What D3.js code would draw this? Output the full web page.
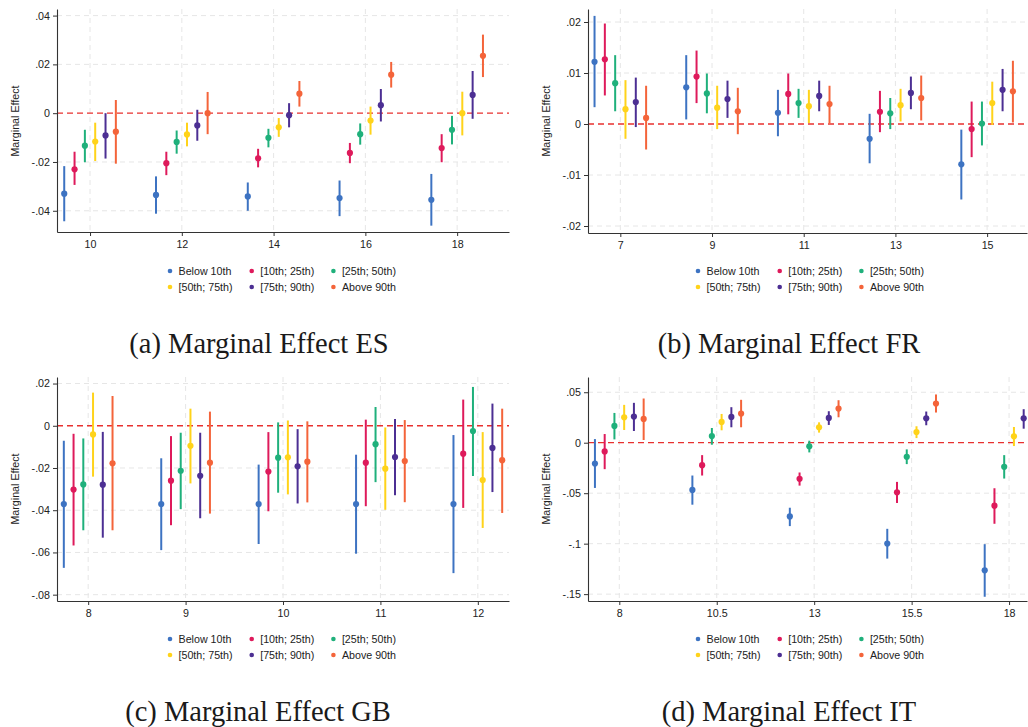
<!DOCTYPE html>
<html><head><meta charset="utf-8">
<script src="https://cdn.jsdelivr.net/npm/d3@7"></script>
<style>
body{margin:0;background:#fff;}
svg{display:block;}
</style></head>
<body><svg id="c" width="1028" height="727"></svg>
<script>
// ---- Data ----
const seriesNames = ["Below 10th","[10th; 25th)","[25th; 50th)","[50th; 75th)","[75th; 90th)","Above 90th"];
const seriesColors = ["#3d73c2","#de1a5b","#1fb07b","#ffd31a","#4c2f93","#f4643a"];

// Panel (a) ES
const ES_groups = [10,12,14,16,18];
const ES_yTicks = [0.04,0.02,0,-0.02,-0.04];
const ES_yLabels = [".04",".02","0","-.02","-.04"];
const ES_est = [
 [-0.033,-0.0335,-0.0341,-0.0348,-0.0355],
 [-0.023,-0.0205,-0.0185,-0.0163,-0.0143],
 [-0.0133,-0.0118,-0.0101,-0.0086,-0.0068],
 [-0.0116,-0.0087,-0.0058,-0.003,0.0],
 [-0.0091,-0.005,-0.0008,0.0033,0.0075],
 [-0.0076,0.0,0.008,0.0158,0.0235]];
const ES_lo = [
 [-0.0443,-0.0412,-0.040,-0.0422,-0.0461],
 [-0.0294,-0.0254,-0.0222,-0.0205,-0.0201],
 [-0.0201,-0.0166,-0.014,-0.0129,-0.0128],
 [-0.0196,-0.0136,-0.0097,-0.0088,-0.0091],
 [-0.0186,-0.0113,-0.0058,-0.0034,-0.0023],
 [-0.0207,-0.0086,0.0027,0.0105,0.0148]];
const ES_hi = [
 [-0.0217,-0.0259,-0.0284,-0.0276,-0.0249],
 [-0.0158,-0.0158,-0.0146,-0.0122,-0.0086],
 [-0.0068,-0.0071,-0.0064,-0.0042,-0.0011],
 [-0.0039,-0.0039,-0.002,0.0027,0.0088],
 [0.0,0.0014,0.0041,0.0099,0.0173],
 [0.0054,0.0087,0.0132,0.021,0.0322]];

// Panel (b) FR
const FR_groups = [7,9,11,13,15];
const FR_yTicks = [0.02,0.01,0,-0.01,-0.02];
const FR_yLabels = [".02",".01","0","-.01","-.02"];
const FR_est = [
 [0.0122,0.0072,0.0022,-0.0029,-0.0079],
 [0.0127,0.0093,0.0059,0.0024,-0.001],
 [0.008,0.006,0.0041,0.0021,0.0001],
 [0.0029,0.0032,0.0035,0.0037,0.0041],
 [0.0043,0.0049,0.0055,0.0061,0.0067],
 [0.0012,0.0025,0.0039,0.0051,0.0064]];
const FR_lo = [
 [0.0033,0.0009,-0.0024,-0.0077,-0.0148],
 [0.0056,0.0041,0.0019,-0.0016,-0.0065],
 [0.0025,0.0021,0.0012,-0.001,-0.0042],
 [-0.0029,-0.001,0.0002,0.0005,-0.0002],
 [-0.0006,0.0012,0.0025,0.0029,0.0025],
 [-0.005,-0.002,0.0001,0.0007,0.0003]];
const FR_hi = [
 [0.0212,0.0135,0.0067,0.002,-0.0011],
 [0.0197,0.0144,0.0099,0.0065,0.0044],
 [0.0135,0.0099,0.0069,0.0051,0.0044],
 [0.0086,0.0075,0.0067,0.0069,0.0083],
 [0.0091,0.0085,0.0085,0.0093,0.0108],
 [0.0075,0.0071,0.0075,0.0095,0.0124]];

// Panel (c) GB
const GB_groups = [8,9,10,11,12];
const GB_yTicks = [0.02,0,-0.02,-0.04,-0.06,-0.08];
const GB_yLabels = [".02","0","-.02","-.04","-.06","-.08"];
const GB_est = [
 [-0.0371,-0.0371,-0.0371,-0.0371,-0.0371],
 [-0.0302,-0.026,-0.0217,-0.0175,-0.0132],
 [-0.0278,-0.0213,-0.0151,-0.0087,-0.0025],
 [-0.0041,-0.0095,-0.0149,-0.0203,-0.0257],
 [-0.0279,-0.0237,-0.0192,-0.0148,-0.0105],
 [-0.0178,-0.0175,-0.017,-0.0167,-0.0163]];
const GB_lo = [
 [-0.0673,-0.0589,-0.056,-0.0606,-0.0698],
 [-0.0567,-0.0471,-0.0405,-0.0381,-0.0389],
 [-0.0495,-0.0395,-0.0317,-0.0267,-0.0238],
 [-0.0241,-0.0273,-0.0325,-0.0398,-0.0484],
 [-0.053,-0.0438,-0.0368,-0.0329,-0.0314],
 [-0.0495,-0.0416,-0.0363,-0.0362,-0.0413]];
const GB_hi = [
 [-0.0071,-0.0154,-0.0184,-0.0137,-0.0044],
 [-0.0038,-0.0049,-0.003,0.0029,0.0124],
 [-0.006,-0.0033,0.0016,0.0089,0.0184],
 [0.0157,0.0081,0.0025,-0.0008,-0.003],
 [-0.0029,-0.0033,-0.0016,0.0032,0.0105],
 [0.0141,0.0067,0.0021,0.0027,0.0081]];

// Panel (d) IT
const IT_groups = [8,10.5,13,15.5,18];
const IT_yTicks = [0.05,0,-0.05,-0.1,-0.15];
const IT_yLabels = [".05","0","-.05","-.1","-.15"];
const IT_est = [
 [-0.0206,-0.0468,-0.073,-0.0999,-0.1264],
 [-0.0086,-0.0222,-0.0358,-0.0491,-0.0624],
 [0.0166,0.0066,-0.0036,-0.0139,-0.0239],
 [0.0252,0.0206,0.0153,0.0106,0.0063],
 [0.0259,0.0255,0.0246,0.0242,0.0242],
 [0.0236,0.0289,0.0338,0.0388,null]];
const IT_lo = [
 [-0.0448,-0.0614,-0.0826,-0.1148,-0.1526],
 [-0.0262,-0.0325,-0.0425,-0.0597,-0.0803],
 [0.0033,-0.002,-0.0096,-0.0212,-0.0355],
 [0.0126,0.0123,0.01,0.0046,-0.0033],
 [0.0116,0.0153,0.0176,0.0173,0.0139],
 [0.0027,0.0153,0.0252,0.0299,null]];
const IT_hi = [
 [0.0036,-0.0325,-0.0644,-0.0853,-0.1005],
 [0.0086,-0.0123,-0.0295,-0.0388,-0.0451],
 [0.0295,0.0146,0.002,-0.0066,-0.0123],
 [0.0375,0.0285,0.0202,0.0163,0.0156],
 [0.0395,0.0352,0.0312,0.0309,0.0332],
 [0.0438,0.0425,0.0421,0.0478,null]];

const panelTitles = ["(a) Marginal Effect ES","(b) Marginal Effect FR","(c) Marginal Effect GB","(d) Marginal Effect IT"];

// ---- Layout ----
const panels = [
 {groups:ES_groups,yTicks:ES_yTicks,yLabels:ES_yLabels,est:ES_est,lo:ES_lo,hi:ES_hi,title:panelTitles[0],
  L:57,R:509,T:9,B:232,xd:[9.28,19.13],yd:[-0.0487,0.0427],step:0.225,legX:170,legY:271,capX:259,capY:353,ytX:19,ytY:121},
 {groups:FR_groups,yTicks:FR_yTicks,yLabels:FR_yLabels,est:FR_est,lo:FR_lo,hi:FR_hi,title:panelTitles[1],
  L:588,R:1027,T:9,B:233,xd:[6.295,15.87],yd:[-0.02137,0.02255],step:0.225,legX:698,legY:271,capX:789,capY:353,ytX:550,ytY:121},
 {groups:GB_groups,yTicks:GB_yTicks,yLabels:GB_yLabels,est:GB_est,lo:GB_lo,hi:GB_hi,title:panelTitles[2],
  L:57,R:509,T:377,B:601,xd:[7.68,12.32],yd:[-0.083,0.0231],step:0.1,legX:170,legY:639,capX:258,capY:721,ytX:19,ytY:489},
 {groups:IT_groups,yTicks:IT_yTicks,yLabels:IT_yLabels,est:IT_est,lo:IT_lo,hi:IT_hi,title:panelTitles[3],
  L:588,R:1027,T:377,B:601,xd:[7.197,18.46],yd:[-0.1568,0.0651],step:0.25,legX:698,legY:639,capX:789,capY:721,ytX:550,ytY:489}
];

const svg = d3.select("#c");
const sans = "'Liberation Sans', Arial, Helvetica, sans-serif";
const serif = "'Liberation Serif', 'Times New Roman', serif";

panels.forEach((p,pi)=>{
  const x = d3.scaleLinear().domain(p.xd).range([p.L,p.R]);
  const y = d3.scaleLinear().domain(p.yd).range([p.B,p.T]);
  const g = svg.append("g");
  const clipId = "clip"+pi;
  svg.append("clipPath").attr("id",clipId).append("rect")
    .attr("x",p.L).attr("y",p.T-4).attr("width",p.R-p.L).attr("height",p.B-p.T+4);

  // gridlines
  g.selectAll(".hg").data(p.yTicks.filter(d=>d!==0)).join("line")
    .attr("x1",p.L).attr("x2",p.R).attr("y1",d=>y(d)).attr("y2",d=>y(d))
    .attr("stroke","#e6e6e6").attr("stroke-width",1).attr("stroke-dasharray","5,4");
  g.selectAll(".vg").data(p.groups).join("line")
    .attr("x1",d=>x(d)).attr("x2",d=>x(d)).attr("y1",p.T).attr("y2",p.B)
    .attr("stroke","#e6e6e6").attr("stroke-width",1).attr("stroke-dasharray","5,4");

  // zero line
  g.append("line").attr("x1",p.L).attr("x2",p.R).attr("y1",y(0)).attr("y2",y(0))
    .attr("stroke","#e8302f").attr("stroke-width",1.3).attr("stroke-dasharray","6,4");

  // marks
  const mg = g.append("g").attr("clip-path",`url(#${clipId})`);
  p.est.forEach((ser,si)=>{
    const off = (si-2.5)*p.step;
    const pts = p.groups.map((gv,gi)=>({x:gv+off,e:ser[gi],lo:p.lo[si][gi],hi:p.hi[si][gi]})).filter(d=>d.e!==null);
    mg.selectAll(null).data(pts).join("line")
      .attr("x1",d=>x(d.x)).attr("x2",d=>x(d.x)).attr("y1",d=>y(d.lo)).attr("y2",d=>y(d.hi))
      .attr("stroke",seriesColors[si]).attr("stroke-width",2);
    mg.selectAll(null).data(pts).join("circle")
      .attr("cx",d=>x(d.x)).attr("cy",d=>y(d.e)).attr("r",3.1)
      .attr("fill",seriesColors[si]);
  });

  // axes
  const ya = g.append("g").attr("transform",`translate(${p.L},0)`)
    .call(d3.axisLeft(y).tickValues(p.yTicks).tickFormat((d,i)=>p.yLabels[i]).tickSize(4).tickPadding(3).tickSizeOuter(0));
  const xa = g.append("g").attr("transform",`translate(0,${p.B})`)
    .call(d3.axisBottom(x).tickValues(p.groups).tickFormat(d=>String(d)).tickSize(4).tickPadding(4).tickSizeOuter(0));
  [ya,xa].forEach(a=>{
    a.select(".domain").attr("stroke","#333").attr("stroke-width",1.1);
    a.selectAll(".tick line").attr("stroke","#333");
    a.selectAll("text").attr("font-family",sans).attr("font-size",10.7).attr("fill","#222");
  });

  // y title
  g.append("text").attr("transform",`translate(${p.ytX},${p.ytY}) rotate(-90)`)
    .attr("text-anchor","middle").attr("font-family",sans).attr("font-size",10.7).attr("fill","#222")
    .text("Marginal Effect");

  // legend
  const lg = g.append("g");
  seriesNames.forEach((n,i)=>{
    const col = i%3, row = Math.floor(i/3);
    const lx = p.legX + col*81.7, ly = p.legY + row*16;
    lg.append("circle").attr("cx",lx).attr("cy",ly).attr("r",2.3).attr("fill",seriesColors[i]);
    lg.append("text").attr("x",lx+8.5).attr("y",ly+3.8).attr("font-family",sans).attr("font-size",10.7)
      .attr("fill","#222").text(n);
  });

  // caption
  g.append("text").attr("x",p.capX).attr("y",p.capY).attr("text-anchor","middle")
    .attr("font-family",serif).attr("font-size",28.5).attr("fill","#1a1a1a").text(p.title);
});
</script></body></html>
